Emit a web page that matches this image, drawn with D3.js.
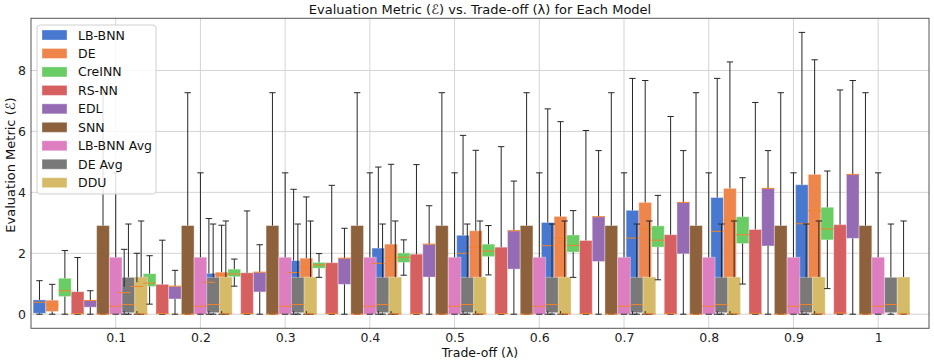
<!DOCTYPE html>
<html>
<head>
<meta charset="utf-8">
<script src="https://cdn.jsdelivr.net/npm/d3@7"></script>
<style>
  body { margin: 0; background: #fff; }
  text { font-family: "DejaVu Sans", sans-serif; }
</style>
</head>
<body>
<div id="chart"></div>
<script>
//-------------------------------------
// data
//-------------------------------------
var lambdas = [0.1, 0.2, 0.3, 0.4, 0.5, 0.6, 0.7, 0.8, 0.9, 1.0];
var tickLabels = ["0.1", "0.2", "0.3", "0.4", "0.5", "0.6", "0.7", "0.8", "0.9", "1"];
var models = ["LB-BNN", "DE", "CreINN", "RS-NN", "EDL", "SNN", "LB-BNN Avg", "DE Avg", "DDU"];
var colors = ["#4878d0", "#ee854a", "#6acc64", "#d65f5f", "#956cb4", "#8c613c", "#dc7ec0", "#797979", "#d5bb67"];

// box stats per model, one value per lambda: [whisker low, q1, median, q3, whisker high]
var lbbnnLow  = [0, 0, 0, 0, 0, 0, 0, 0, 0, 0];
var lbbnnQ1   = [0.03, 0.1, 0.1, 0.1, 0.1, 0.1, 0.1, 0.1, 0.1, 0.1];
var lbbnnMed  = [0.39, 0.71, 1.05, 1.37, 1.67, 2.00, 2.25, 2.50, 2.72, 2.97];
var lbbnnQ3   = [0.47, 0.90, 1.34, 1.76, 2.17, 2.59, 3.01, 3.41, 3.83, 4.25];
var lbbnnHigh = [1.10, 2.13, 3.14, 4.10, 4.83, 5.87, 6.74, 7.74, 7.74, 9.25];

var deLow  = [0, 0, 0, 0, 0, 0, 0, 0, 0, 0];
var deQ1   = [0.09, 0.1, 0.1, 0.1, 0.1, 0.1, 0.1, 0.1, 0.1, 0.1];
var deMed  = [0.30, 0.91, 1.30, 1.55, 1.85, 2.20, 2.50, 2.80, 3.10, 3.40];
var deQ3   = [0.46, 1.05, 1.38, 1.84, 2.30, 2.74, 3.21, 3.67, 4.13, 4.59];
var deHigh = [0.98, 2.00, 2.92, 3.85, 4.92, 5.38, 6.32, 7.67, 8.28, 8.35];

var creinnLow  = [0, 0.33, 0.92, 1.21, 1.28, 1.29, 1.21, 1.13, 0.99, 0.84];
var creinnQ1   = [0.58, 0.91, 1.23, 1.51, 1.70, 1.89, 2.04, 2.20, 2.32, 2.44];
var creinnMed  = [0.77, 1.02, 1.32, 1.62, 1.87, 2.07, 2.26, 2.43, 2.61, 2.80];
var creinnQ3   = [1.18, 1.33, 1.48, 1.70, 2.01, 2.30, 2.60, 2.90, 3.20, 3.51];
var creinnHigh = [2.09, 1.92, 1.81, 1.99, 2.44, 2.91, 3.40, 3.90, 4.48, 4.70];

var rsnnLow  = [0, 0, 0, 0, 0, 0, 0, 0, 0, 0];
var rsnnQ1   = [0, 0, 0, 0, 0, 0, 0, 0, 0, 0];
var rsnnMed  = [0.02, 0.02, 0.02, 0.02, 0.02, 0.02, 0.02, 0.02, 0.03, 0.04];
var rsnnQ3   = [0.74, 0.98, 1.36, 1.69, 1.97, 2.20, 2.42, 2.61, 2.78, 2.94];
var rsnnHigh = [1.86, 2.43, 3.39, 4.23, 4.91, 5.50, 6.03, 6.49, 6.95, 7.36];

var edlLow  = [0, 0, 0, 0, 0, 0, 0, 0, 0, 0];
var edlQ1   = [0.23, 0.50, 0.73, 0.98, 1.22, 1.48, 1.73, 1.98, 2.24, 2.49];
var edlMed  = [0.45, 0.92, 1.38, 1.84, 2.30, 2.74, 3.20, 3.67, 4.13, 4.59];
var edlQ3   = [0.45, 0.92, 1.38, 1.84, 2.30, 2.74, 3.20, 3.67, 4.13, 4.59];
var edlHigh = [0.77, 1.44, 2.28, 2.82, 3.56, 4.37, 5.37, 5.37, 5.37, 7.67];

var snnLow  = [0, 0, 0, 0, 0, 0, 0, 0, 0, 0];
var snnQ1   = [0, 0, 0, 0, 0, 0, 0, 0, 0, 0];
var snnMed  = [0, 0, 0, 0, 0, 0, 0, 0, 0, 0];
var snnQ3   = [2.91, 2.91, 2.91, 2.91, 2.91, 2.91, 2.91, 2.91, 2.91, 2.91];
var snnHigh = [7.27, 7.27, 7.27, 7.27, 7.27, 7.27, 7.27, 7.27, 7.27, 7.27];

var lbAvgLow  = [0, 0, 0, 0, 0, 0, 0, 0, 0, 0];
var lbAvgQ1   = [0, 0, 0, 0, 0, 0, 0, 0, 0, 0];
var lbAvgMed  = [0.26, 0.26, 0.26, 0.26, 0.26, 0.26, 0.26, 0.26, 0.26, 0.26];
var lbAvgQ3   = [1.87, 1.87, 1.87, 1.87, 1.87, 1.87, 1.87, 1.87, 1.87, 1.87];
var lbAvgHigh = [4.64, 4.64, 4.64, 4.64, 4.64, 4.64, 4.64, 4.64, 4.64, 4.64];

var deAvgLow  = [0, 0, 0, 0, 0, 0, 0, 0, 0, 0];
var deAvgQ1   = [0.05, 0.05, 0.05, 0.05, 0.05, 0.05, 0.05, 0.05, 0.05, 0.05];
var deAvgMed  = [0.32, 0.32, 0.32, 0.32, 0.32, 0.32, 0.32, 0.32, 0.32, 0.32];
var deAvgQ3   = [1.21, 1.21, 1.21, 1.21, 1.21, 1.21, 1.21, 1.21, 1.21, 1.21];
var deAvgHigh = [2.96, 2.96, 2.96, 2.96, 2.96, 2.96, 2.96, 2.96, 2.96, 2.96];

var dduLow  = [0, 0, 0, 0, 0, 0, 0, 0, 0, 0];
var dduQ1   = [0, 0, 0, 0, 0, 0, 0, 0, 0, 0];
var dduMed  = [0.01, 0.01, 0.01, 0.01, 0.01, 0.01, 0.01, 0.01, 0.01, 0.01];
var dduQ3   = [1.22, 1.22, 1.22, 1.22, 1.22, 1.22, 1.22, 1.22, 1.22, 1.22];
var dduHigh = [3.06, 3.06, 3.06, 3.06, 3.06, 3.06, 3.06, 3.06, 3.06, 3.06];

var stats = [
	[lbbnnLow, lbbnnQ1, lbbnnMed, lbbnnQ3, lbbnnHigh],
	[deLow, deQ1, deMed, deQ3, deHigh],
	[creinnLow, creinnQ1, creinnMed, creinnQ3, creinnHigh],
	[rsnnLow, rsnnQ1, rsnnMed, rsnnQ3, rsnnHigh],
	[edlLow, edlQ1, edlMed, edlQ3, edlHigh],
	[snnLow, snnQ1, snnMed, snnQ3, snnHigh],
	[lbAvgLow, lbAvgQ1, lbAvgMed, lbAvgQ3, lbAvgHigh],
	[deAvgLow, deAvgQ1, deAvgMed, deAvgQ3, deAvgHigh],
	[dduLow, dduQ1, dduMed, dduQ3, dduHigh]
];

//-------------------------------------
// layout
//-------------------------------------
var width = 934;
var height = 364;
var plot = { left: 31, right: 929, top: 18.3, bottom: 328.3 };
var boxW = 0.015;          // box width in lambda units
var step = 0.015;          // shift between models
var anchorModel = 6;       // model sitting right on the tick

var x = d3.scaleLinear().domain([0, 1.06]).range([plot.left, plot.right]);
var y = d3.scaleLinear().domain([-0.4625, 9.7125]).range([plot.bottom, plot.top]);

var svg = d3.select("#chart")
	.append("svg")
	.attr("width", width)
	.attr("height", height);

// flatten boxes: model by model like repeated boxplot calls
var boxes = [];
models.forEach(function(m, j) {
	lambdas.forEach(function(l, i) {
		boxes.push({
			model: j,
			pos: l + (j - anchorModel) * step,
			low: stats[j][0][i],
			q1: stats[j][1][i],
			med: stats[j][2][i],
			q3: stats[j][3][i],
			high: stats[j][4][i]
		});
	});
});

//grid----------------------------------
var grid = svg.append("g");
grid.selectAll(".gx")
	.data(lambdas)
	.enter()
	.append("line")
	.attr("x1", function(d) { return x(d); })
	.attr("x2", function(d) { return x(d); })
	.attr("y1", plot.top)
	.attr("y2", plot.bottom)
	.style("stroke", "#d4d4d4")
	.style("stroke-width", 1);

grid.selectAll(".gy")
	.data([0, 2, 4, 6, 8])
	.enter()
	.append("line")
	.attr("x1", plot.left)
	.attr("x2", plot.right)
	.attr("y1", function(d) { return y(d); })
	.attr("y2", function(d) { return y(d); })
	.style("stroke", "#d4d4d4")
	.style("stroke-width", 1);

//boxes (patches first, lines on top)---
var halfPx = (x(boxW) - x(0)) / 2;

svg.append("g").selectAll("rect")
	.data(boxes)
	.enter()
	.append("rect")
	.attr("x", function(d) { return x(d.pos) - halfPx; })
	.attr("width", halfPx * 2)
	.attr("y", function(d) { return y(d.q3); })
	.attr("height", function(d) { return Math.max(0.5, y(d.q1) - y(d.q3)); })
	.style("fill", function(d) { return colors[d.model]; })
	.style("stroke", "#ffffff")
	.style("stroke-opacity", 0.35)
	.style("stroke-width", 1);

var lines = svg.append("g");
var capHalf = halfPx / 2;

boxes.forEach(function(d) {
	var cx = x(d.pos);
	var g = lines.append("g");
	// whiskers
	g.append("line")
		.attr("x1", cx).attr("x2", cx)
		.attr("y1", y(d.q3)).attr("y2", y(d.high));
	g.append("line")
		.attr("x1", cx).attr("x2", cx)
		.attr("y1", y(d.q1)).attr("y2", y(d.low));
	// caps
	g.append("line")
		.attr("x1", cx - capHalf).attr("x2", cx + capHalf)
		.attr("y1", y(d.high)).attr("y2", y(d.high));
	g.append("line")
		.attr("x1", cx - capHalf).attr("x2", cx + capHalf)
		.attr("y1", y(d.low)).attr("y2", y(d.low));
	g.selectAll("line")
		.style("stroke", "#262626")
		.style("stroke-width", 1);
	// median
	g.append("line")
		.attr("x1", cx - halfPx).attr("x2", cx + halfPx)
		.attr("y1", y(d.med)).attr("y2", y(d.med))
		.style("stroke", "#f5822a")
		.style("stroke-width", 1);
});

//frame---------------------------------
svg.append("rect")
	.attr("x", plot.left)
	.attr("y", plot.top)
	.attr("width", plot.right - plot.left)
	.attr("height", plot.bottom - plot.top)
	.style("fill", "none")
	.style("stroke", "#555")
	.style("stroke-width", 1);

//axes----------------------------------
var xAxis = d3.axisBottom(x)
	.tickValues(lambdas)
	.tickSize(0)
	.tickPadding(5)
	.tickFormat(function(d, i) { return tickLabels[i]; });

var gx = svg.append("g")
	.attr("transform", "translate(0," + plot.bottom + ")")
	.call(xAxis);
gx.select(".domain").remove();
gx.selectAll("text")
	.style("font-family", "DejaVu Sans")
	.style("font-size", "12.5px")
	.style("fill", "#222");

var yAxis = d3.axisLeft(y)
	.tickValues([0, 2, 4, 6, 8])
	.tickSize(0)
	.tickPadding(5);

var gy = svg.append("g")
	.attr("transform", "translate(" + plot.left + ",0)")
	.call(yAxis);
gy.select(".domain").remove();
gy.selectAll("text")
	.style("font-family", "DejaVu Sans")
	.style("font-size", "12.5px")
	.style("fill", "#222");

//labels--------------------------------
svg.append("text")
	.attr("x", (plot.left + plot.right) / 2)
	.attr("y", 14)
	.attr("text-anchor", "middle")
	.style("font-size", "13px")
	.style("fill", "#111")
	.text("Evaluation Metric (\u2130) vs. Trade-off (\u03bb) for Each Model");

svg.append("text")
	.attr("x", (plot.left + plot.right) / 2)
	.attr("y", 357)
	.attr("text-anchor", "middle")
	.style("font-size", "12.5px")
	.style("fill", "#111")
	.text("Trade-off (\u03bb)");

svg.append("text")
	.attr("transform", "translate(15,165) rotate(-90)")
	.attr("text-anchor", "middle")
	.style("font-size", "13px")
	.style("fill", "#111")
	.text("Evaluation Metric (\u2130)");

//legend--------------------------------
var legend = svg.append("g");
legend.append("rect")
	.attr("x", 37)
	.attr("y", 25)
	.attr("width", 119)
	.attr("height", 169)
	.attr("rx", 3)
	.style("fill", "#fff")
	.style("fill-opacity", 0.85)
	.style("stroke", "#d0d0d0")
	.style("stroke-width", 1);

var rowY = d3.scaleLinear().domain([0, models.length - 1]).range([35, 182.7]);

var items = legend.selectAll(".item")
	.data(models)
	.enter()
	.append("g")
	.attr("transform", function(d, i) { return "translate(0," + rowY(i) + ")"; });

items.append("rect")
	.attr("x", 42)
	.attr("y", -5)
	.attr("width", 25)
	.attr("height", 10)
	.style("fill", function(d, i) { return colors[i]; })
	.style("stroke", "#fff")
	.style("stroke-opacity", 0.35);

items.append("text")
	.attr("x", 78)
	.attr("y", 4.5)
	.style("font-size", "12.5px")
	.style("fill", "#111")
	.text(function(d) { return d; });
</script>
</body>
</html>
